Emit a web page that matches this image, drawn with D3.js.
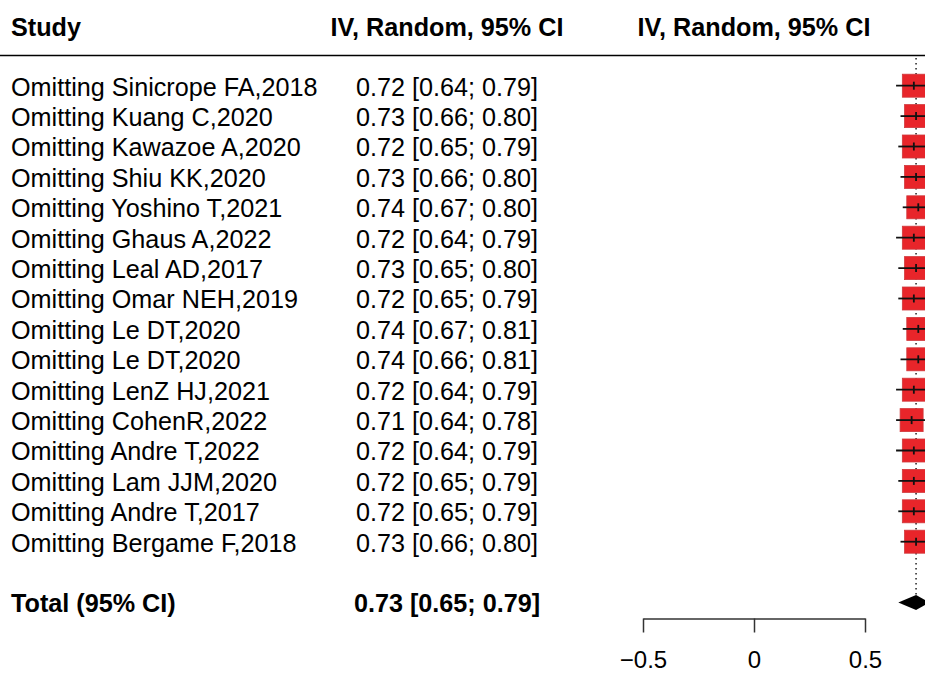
<!DOCTYPE html>
<html>
<head>
<meta charset="utf-8">
<script src="https://cdn.jsdelivr.net/npm/d3@7"></script>
<style>
  body { margin: 0; background: #fff; }
  svg { display: block; font-family: "Liberation Sans", Arial, sans-serif; }
</style>
</head>
<body>
<svg id="chart" width="925" height="675"></svg>
<script>
// Leave-one-out studies (label, estimate, lower, upper)
var studies = [
  'Omitting Sinicrope FA,2018', 'Omitting Kuang C,2020', 'Omitting Kawazoe A,2020',
  'Omitting Shiu KK,2020', 'Omitting Yoshino T,2021', 'Omitting Ghaus A,2022',
  'Omitting Leal AD,2017', 'Omitting Omar NEH,2019', 'Omitting Le DT,2020',
  'Omitting Le DT,2020', 'Omitting LenZ HJ,2021', 'Omitting CohenR,2022',
  'Omitting Andre T,2022', 'Omitting Lam JJM,2020', 'Omitting Andre T,2017',
  'Omitting Bergame F,2018'
];
var estimates = [0.72, 0.73, 0.72, 0.73, 0.74, 0.72, 0.73, 0.72, 0.74, 0.74, 0.72, 0.71, 0.72, 0.72, 0.72, 0.73];
var lowers    = [0.64, 0.66, 0.65, 0.66, 0.67, 0.64, 0.65, 0.65, 0.67, 0.66, 0.64, 0.64, 0.64, 0.65, 0.65, 0.66];
var uppers    = [0.79, 0.80, 0.79, 0.80, 0.80, 0.79, 0.80, 0.79, 0.81, 0.81, 0.79, 0.78, 0.79, 0.79, 0.79, 0.80];

// Pooled result
var total = { label: 'Total (95% CI)', est: 0.73, lo: 0.65, hi: 0.79 };

// Axis ticks and headers
var axisTicks = [-0.5, 0, 0.5];
var headers = ['Study', 'IV, Random, 95% CI', 'IV, Random, 95% CI'];

var svg = d3.select('#chart');
var fontSize = 25.2;

// Horizontal scale for the effect axis
var x = d3.scaleLinear().domain([-0.5, 0.5]).range([643, 865]);

// Row positions: header at -2, studies 0..15, blank row, total at 17
var y = d3.scaleLinear().domain([0, 1]).range([85.7, 116.1]);

function fmt(v) { return d3.format('.2f')(v); }
function ciText(e, l, h) { return fmt(e) + ' [' + fmt(l) + '; ' + fmt(h) + ']'; }

// Headers
var headerX = [11, 447, x(0)];
var headerAnchor = ['start', 'middle', 'middle'];
svg.selectAll('text.header')
  .data(headers)
  .enter().append('text')
    .attr('class', 'header')
    .attr('x', function(d, i) { return headerX[i]; })
    .attr('y', y(-2) + 2)
    .attr('dy', '0.35em')
    .attr('text-anchor', function(d, i) { return headerAnchor[i]; })
    .attr('font-weight', 'bold')
    .attr('font-size', fontSize)
    .text(function(d) { return d; });

// Line under the headers
svg.append('line')
  .attr('x1', 0).attr('x2', 925)
  .attr('y1', 55.5).attr('y2', 55.5)
  .attr('stroke', '#000').attr('stroke-width', 1.5);

// Dotted reference line at the pooled estimate
svg.append('line')
  .attr('x1', x(total.est)).attr('x2', x(total.est))
  .attr('y1', 58).attr('y2', y(17) - 8)
  .attr('stroke', '#222').attr('stroke-width', 1.5)
  .attr('stroke-dasharray', '1.5,3.5');

var rows = studies.map(function(s, i) {
  return { label: s, est: estimates[i], lo: lowers[i], hi: uppers[i], i: i };
});

// Study labels
svg.selectAll('text.study')
  .data(rows)
  .enter().append('text')
    .attr('class', 'study')
    .attr('x', 11)
    .attr('y', function(d) { return y(d.i) + 1; })
    .attr('dy', '0.35em')
    .attr('font-size', fontSize)
    .text(function(d) { return d.label; });

// Effect text
svg.selectAll('text.ci')
  .data(rows)
  .enter().append('text')
    .attr('class', 'ci')
    .attr('x', 447)
    .attr('y', function(d) { return y(d.i) + 1; })
    .attr('dy', '0.35em')
    .attr('text-anchor', 'middle')
    .attr('font-size', fontSize)
    .text(function(d) { return ciText(d.est, d.lo, d.hi); });

// Boxes
var boxSize = 23;
svg.selectAll('rect.box')
  .data(rows)
  .enter().append('rect')
    .attr('class', 'box')
    .attr('x', function(d) { return x(d.est) - boxSize / 2; })
    .attr('y', function(d) { return y(d.i) - boxSize / 2; })
    .attr('width', boxSize)
    .attr('height', boxSize)
    .attr('fill', '#e8252a')
    .attr('stroke', '#d0393c')
    .attr('stroke-width', 0.8);

// CI lines
svg.selectAll('line.ci')
  .data(rows)
  .enter().append('line')
    .attr('class', 'ci')
    .attr('x1', function(d) { return x(d.lo); })
    .attr('x2', function(d) { return x(d.hi); })
    .attr('y1', function(d) { return y(d.i); })
    .attr('y2', function(d) { return y(d.i); })
    .attr('stroke', '#111').attr('stroke-width', 1.8);

// Small tick at each estimate
svg.selectAll('line.est')
  .data(rows)
  .enter().append('line')
    .attr('class', 'est')
    .attr('x1', function(d) { return x(d.est); })
    .attr('x2', function(d) { return x(d.est); })
    .attr('y1', function(d) { return y(d.i) - 4; })
    .attr('y2', function(d) { return y(d.i) + 4; })
    .attr('stroke', '#111').attr('stroke-width', 1.8);

// Total row
svg.append('text')
  .attr('x', 11).attr('y', y(17) + 1).attr('dy', '0.35em')
  .attr('font-size', fontSize).attr('font-weight', 'bold')
  .text(total.label);

svg.append('text')
  .attr('x', 447).attr('y', y(17) + 1).attr('dy', '0.35em')
  .attr('text-anchor', 'middle')
  .attr('font-size', fontSize).attr('font-weight', 'bold')
  .text(ciText(total.est, total.lo, total.hi));

// Diamond for the pooled estimate
var yc = y(17), dh = 7.5;
svg.append('path')
  .attr('d', 'M' + x(total.lo) + ',' + yc +
             'L' + x(total.est) + ',' + (yc - dh) +
             'L' + x(total.hi) + ',' + yc +
             'L' + x(total.est) + ',' + (yc + dh) + 'Z')
  .attr('fill', '#000');

// Bottom axis
var axis = d3.axisBottom(x)
  .tickValues(axisTicks)
  .tickSize(14)
  .tickSizeOuter(0)
  .tickFormat(function(d) { return d === 0 ? '0' : d3.format('.1f')(d).replace('-', '\u2212'); });

var gAxis = svg.append('g')
  .attr('transform', 'translate(0,618.5)')
  .call(axis);

gAxis.select('.domain').attr('stroke', '#333').attr('stroke-width', 1.5);
gAxis.selectAll('.tick line').attr('stroke', '#333').attr('stroke-width', 1.5);
gAxis.selectAll('.tick text')
  .attr('font-family', '"Liberation Sans", Arial, sans-serif')
  .attr('font-size', 24)
  .attr('fill', '#000')
  .attr('y', 32)
  .attr('dy', '0.71em');
</script>
</body>
</html>
